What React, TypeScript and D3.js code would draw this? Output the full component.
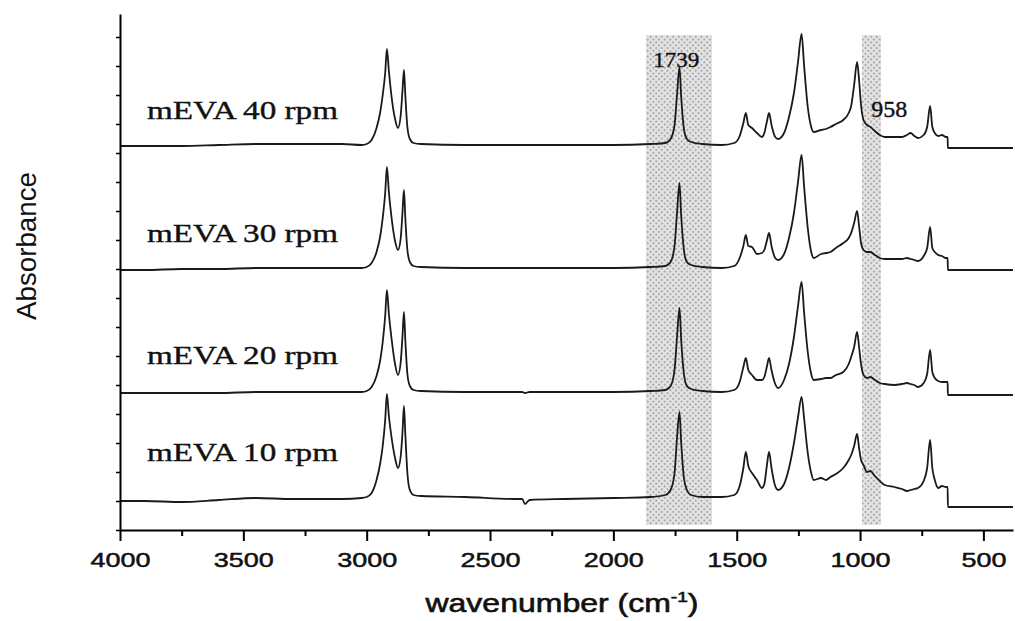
import React, { useEffect, useRef } from 'react'
import * as d3 from 'd3'

// shared wavenumber grid (cm-1)
const wavenumbers = [
  4000, 3900, 3750, 3600, 3450, 3300, 3100, 3020, 3000, 2980,
  2960, 2945, 2935, 2925, 2918, 2910, 2900, 2885, 2873, 2862,
  2855, 2849, 2843, 2835, 2825, 2810, 2780, 2600, 2400, 2370,
  2358, 2340, 2200, 2000, 1850, 1790, 1768, 1752, 1742, 1732,
  1725, 1714, 1702, 1685, 1640, 1560, 1510, 1488, 1473, 1463,
  1453, 1438, 1418, 1398, 1388, 1378, 1369, 1359, 1344, 1332,
  1308, 1288, 1268, 1252, 1237, 1227, 1212, 1198, 1188, 1158,
  1138, 1120, 1098, 1068, 1046, 1036, 1024, 1012, 1004, 996,
  986, 972, 958, 940, 920, 900, 860, 830, 810, 795,
  780, 765, 742, 728, 716, 707, 697, 683, 668, 652,
  645, 644, 500, 380,
]

// absorbance above each spectrum's own baseline (a.u.)
const mEVA10 = [
  -0.03, -0.03, -0.04, -0.02, 0, -0.01, -0.01, 0, 0.01, 0.05,
  0.18, 0.35, 0.52, 0.78, 1.04, 0.82, 0.62, 0.4, 0.3, 0.42,
  0.65, 0.92, 0.62, 0.25, 0.08, 0.03, 0.02, 0.01, -0.01, -0.01,
  -0.06, -0.02, -0.01, 0, 0.01, 0.03, 0.08, 0.25, 0.6, 0.86,
  0.55, 0.2, 0.08, 0.03, 0.01, 0.01, 0.03, 0.12, 0.3, 0.46,
  0.32, 0.25, 0.18, 0.1, 0.14, 0.32, 0.46, 0.3, 0.12, 0.08,
  0.14, 0.3, 0.55, 0.8, 1.01, 0.8, 0.45, 0.25, 0.18, 0.2,
  0.18, 0.21, 0.24, 0.3, 0.38, 0.43, 0.52, 0.64, 0.5, 0.38,
  0.33, 0.26, 0.27, 0.22, 0.17, 0.13, 0.11, 0.09, 0.07, 0.08,
  0.09, 0.1, 0.17, 0.3, 0.58, 0.3, 0.18, 0.1, 0.12, 0.11,
  0.11, -0.09, -0.09, -0.09,
]
const mEVA20 = [
  -0.01, -0.01, -0.01, -0.01, 0, 0, 0, 0, 0.01, 0.05,
  0.16, 0.32, 0.5, 0.76, 1.02, 0.78, 0.55, 0.28, 0.17, 0.3,
  0.55, 0.8, 0.5, 0.18, 0.06, 0.02, 0.01, 0, 0, 0,
  -0.01, 0, 0, 0, 0.01, 0.02, 0.06, 0.22, 0.55, 0.84,
  0.52, 0.18, 0.06, 0.03, 0.01, 0, 0.02, 0.1, 0.25, 0.34,
  0.22, 0.17, 0.12, 0.12, 0.15, 0.25, 0.34, 0.22, 0.08, 0.04,
  0.12, 0.28, 0.55, 0.85, 1.1, 0.8, 0.4, 0.18, 0.12, 0.13,
  0.14, 0.14, 0.17, 0.2, 0.28, 0.35, 0.45, 0.6, 0.45, 0.28,
  0.17, 0.14, 0.15, 0.12, 0.09, 0.08, 0.07, 0.08, 0.09, 0.08,
  0.07, 0.05, 0.09, 0.18, 0.42, 0.2, 0.14, 0.11, 0.1, 0.1,
  0.1, -0.03, -0.03, -0.03,
]
const mEVA30 = [
  -0.02, -0.02, -0.01, -0.01, 0, 0, 0, 0, 0.01, 0.05,
  0.16, 0.32, 0.5, 0.75, 1.01, 0.76, 0.52, 0.27, 0.18, 0.3,
  0.55, 0.78, 0.48, 0.18, 0.06, 0.02, 0.01, 0, 0, 0,
  0, 0, 0, 0, 0.01, 0.02, 0.06, 0.22, 0.55, 0.85,
  0.52, 0.18, 0.06, 0.03, 0.01, 0, 0.02, 0.1, 0.22, 0.33,
  0.22, 0.21, 0.14, 0.15, 0.18, 0.27, 0.35, 0.22, 0.1, 0.08,
  0.14, 0.3, 0.55, 0.85, 1.13, 0.82, 0.4, 0.16, 0.1, 0.14,
  0.15, 0.16, 0.2, 0.25, 0.3, 0.35, 0.45, 0.57, 0.42, 0.25,
  0.18, 0.16, 0.16, 0.13, 0.1, 0.09, 0.09, 0.09, 0.1, 0.09,
  0.08, 0.07, 0.12, 0.2, 0.41, 0.2, 0.16, 0.13, 0.12, 0.1,
  0.1, -0.02, -0.02, -0.02,
]
const mEVA40 = [
  -0.01, -0.01, -0.01, 0, 0.01, 0.01, 0.01, 0, 0.01, 0.05,
  0.17, 0.33, 0.5, 0.72, 0.96, 0.74, 0.5, 0.26, 0.17, 0.3,
  0.54, 0.75, 0.48, 0.18, 0.06, 0.02, 0.01, 0, 0, 0,
  0, 0, 0, 0, 0.01, 0.02, 0.06, 0.2, 0.5, 0.78,
  0.48, 0.16, 0.06, 0.03, 0.01, 0, 0.02, 0.09, 0.22, 0.32,
  0.2, 0.17, 0.12, 0.08, 0.12, 0.23, 0.32, 0.2, 0.08, 0.06,
  0.12, 0.28, 0.52, 0.82, 1.11, 0.8, 0.38, 0.18, 0.13, 0.15,
  0.16, 0.18, 0.21, 0.25, 0.32, 0.39, 0.6, 0.83, 0.65, 0.4,
  0.25, 0.2, 0.18, 0.14, 0.1, 0.08, 0.08, 0.08, 0.1, 0.12,
  0.09, 0.07, 0.1, 0.18, 0.39, 0.18, 0.12, 0.09, 0.1, 0.08,
  0.08, -0.03, -0.03, -0.03,
]

const seriesNames = ['mEVA 10 rpm', 'mEVA 20 rpm', 'mEVA 30 rpm', 'mEVA 40 rpm']
const seriesValues = [mEVA10, mEVA20, mEVA30, mEVA40]
const offsets = [0.32, 1.38, 2.62, 3.85]
const labelLevels = [0.69, 1.66, 2.88, 4.11]

// highlighted bands (cm-1)
const bands = [
  { from: 1868, to: 1600 },
  { from: 992, to: 915 },
]
const bandRange = [0.05, 4.95]
const peakNotes = [
  { text: '1739', wn: 1838, level: 4.63, size: 22, len: 46 },
  { text: '958', wn: 955, level: 4.13, size: 23, len: 36 },
]

const majorTicks = [4000, 3500, 3000, 2500, 2000, 1500, 1000, 500]
const minorTicks = [3750, 3250, 2750, 2250, 1750, 1250, 750]
const yTicks = d3.range(18).map((k) => k * 0.29)

const W = 1015
const H = 621
const margin = { top: 14, right: 2, bottom: 91, left: 120 }

export default function App() {
  const svgRef = useRef<SVGSVGElement>(null)

  useEffect(() => {
    const svg = d3.select(svgRef.current)
    svg.selectAll('*').remove()

    const x = d3.scaleLinear().domain([4000, 380]).range([margin.left, W - margin.right])
    const y = d3.scaleLinear().domain([0, 5.16]).range([H - margin.bottom, margin.top])

    // stipple pattern for the shaded bands
    const pat = svg.append('defs').append('pattern')
      .attr('id', 'stipple')
      .attr('patternUnits', 'userSpaceOnUse')
      .attr('width', 4)
      .attr('height', 4)
      .attr('patternTransform', 'rotate(45)')
    pat.append('rect').attr('width', 4).attr('height', 4).attr('fill', '#e4e4e4')
    pat.append('circle').attr('cx', 2).attr('cy', 2).attr('r', 1).attr('fill', '#999')

    svg.append('g')
      .selectAll('rect')
      .data(bands)
      .join('rect')
      .attr('x', (d) => x(d.from))
      .attr('width', (d) => x(d.to) - x(d.from))
      .attr('y', y(bandRange[1]))
      .attr('height', y(bandRange[0]) - y(bandRange[1]))
      .attr('fill', 'url(#stipple)')

    // spectra
    seriesValues.forEach((vals, i) => {
      const line = d3.line<number>()
        .x((_, j) => x(wavenumbers[j]))
        .y((d) => y(d + offsets[i]))
        .curve(d3.curveMonotoneX)
      svg.append('path')
        .attr('d', line(vals))
        .attr('fill', 'none')
        .attr('stroke', '#1a1a1a')
        .attr('stroke-width', 1.8)
        .attr('stroke-linejoin', 'round')
    })

    // series labels
    svg.append('g')
      .selectAll('text')
      .data(seriesNames)
      .join('text')
      .attr('x', 147)
      .attr('y', (_, i) => y(labelLevels[i]))
      .attr('textLength', 191)
      .attr('lengthAdjust', 'spacingAndGlyphs')
      .style('font-family', "'Liberation Serif', 'Times New Roman', serif")
      .style('font-size', '26px')
      .style('fill', '#111')
      .style('stroke', '#111')
      .style('stroke-width', 0.4)
      .text((d) => d)

    // peak notes
    svg.append('g')
      .selectAll('text')
      .data(peakNotes)
      .join('text')
      .attr('x', (d) => x(d.wn))
      .attr('y', (d) => y(d.level))
      .attr('textLength', (d) => d.len)
      .attr('lengthAdjust', 'spacingAndGlyphs')
      .style('font-family', "'Liberation Serif', 'Times New Roman', serif")
      .style('font-size', (d) => d.size + 'px')
      .style('fill', '#111')
      .style('stroke', '#111')
      .style('stroke-width', 0.4)
      .text((d) => d.text)

    // x axis
    const xg = svg.append('g').attr('transform', `translate(0,${H - margin.bottom})`)
    xg.call(
      d3.axisBottom(x)
        .tickValues(majorTicks)
        .tickSize(11)
        .tickSizeOuter(0)
        .tickFormat(d3.format('d'))
    )
    xg.select('.domain').attr('stroke-width', 2)
    xg.selectAll('.tick line').attr('stroke-width', 2)
    xg.selectAll('.tick text')
      .attr('y', 22)
      .attr('dy', '0.71em')
      .attr('textLength', (d: any) => String(d).length * 15)
      .attr('lengthAdjust', 'spacingAndGlyphs')
      .style('font-family', "'Liberation Sans', Arial, sans-serif")
      .style('font-size', '21px')
      .style('fill', '#111')
      .style('stroke', '#111')
      .style('stroke-width', 0.5)

    const xm = svg.append('g').attr('transform', `translate(0,${H - margin.bottom})`)
    xm.call(d3.axisBottom(x).tickValues(minorTicks).tickSize(6).tickFormat(() => ''))
    xm.select('.domain').remove()
    xm.selectAll('.tick line').attr('stroke-width', 2)

    // y axis
    const yg = svg.append('g').attr('transform', `translate(${margin.left},0)`)
    yg.call(d3.axisLeft(y).tickValues(yTicks).tickSize(4).tickSizeOuter(0).tickFormat(() => ''))
    yg.select('.domain').attr('stroke-width', 2)
    yg.selectAll('.tick line').attr('stroke-width', 1.5)

    // axis titles
    const xt = svg.append('text')
      .attr('transform', 'translate(562,612) scale(1.28,1)')
      .attr('text-anchor', 'middle')
      .style('font-family', "'Liberation Sans', Arial, sans-serif")
      .style('font-size', '25px')
      .style('fill', '#111')
      .style('stroke', '#111')
      .style('stroke-width', 0.6)
    xt.append('tspan').text('wavenumber (cm')
    xt.append('tspan').attr('dy', -10).style('font-size', '15px').text('-1')
    xt.append('tspan').attr('dy', 10).text(')')

    svg.append('text')
      .attr('transform', 'translate(36,246) rotate(-90)')
      .attr('text-anchor', 'middle')
      .attr('textLength', 148)
      .attr('lengthAdjust', 'spacingAndGlyphs')
      .style('font-family', "'Liberation Sans', Arial, sans-serif")
      .style('font-size', '28px')
      .style('fill', '#111')
      .text('Absorbance')
  }, [])

  return (
    <svg
      ref={svgRef}
      width={W}
      height={H}
      style={{ position: 'absolute', left: 0, top: 0, background: '#fff' }}
    />
  )
}
